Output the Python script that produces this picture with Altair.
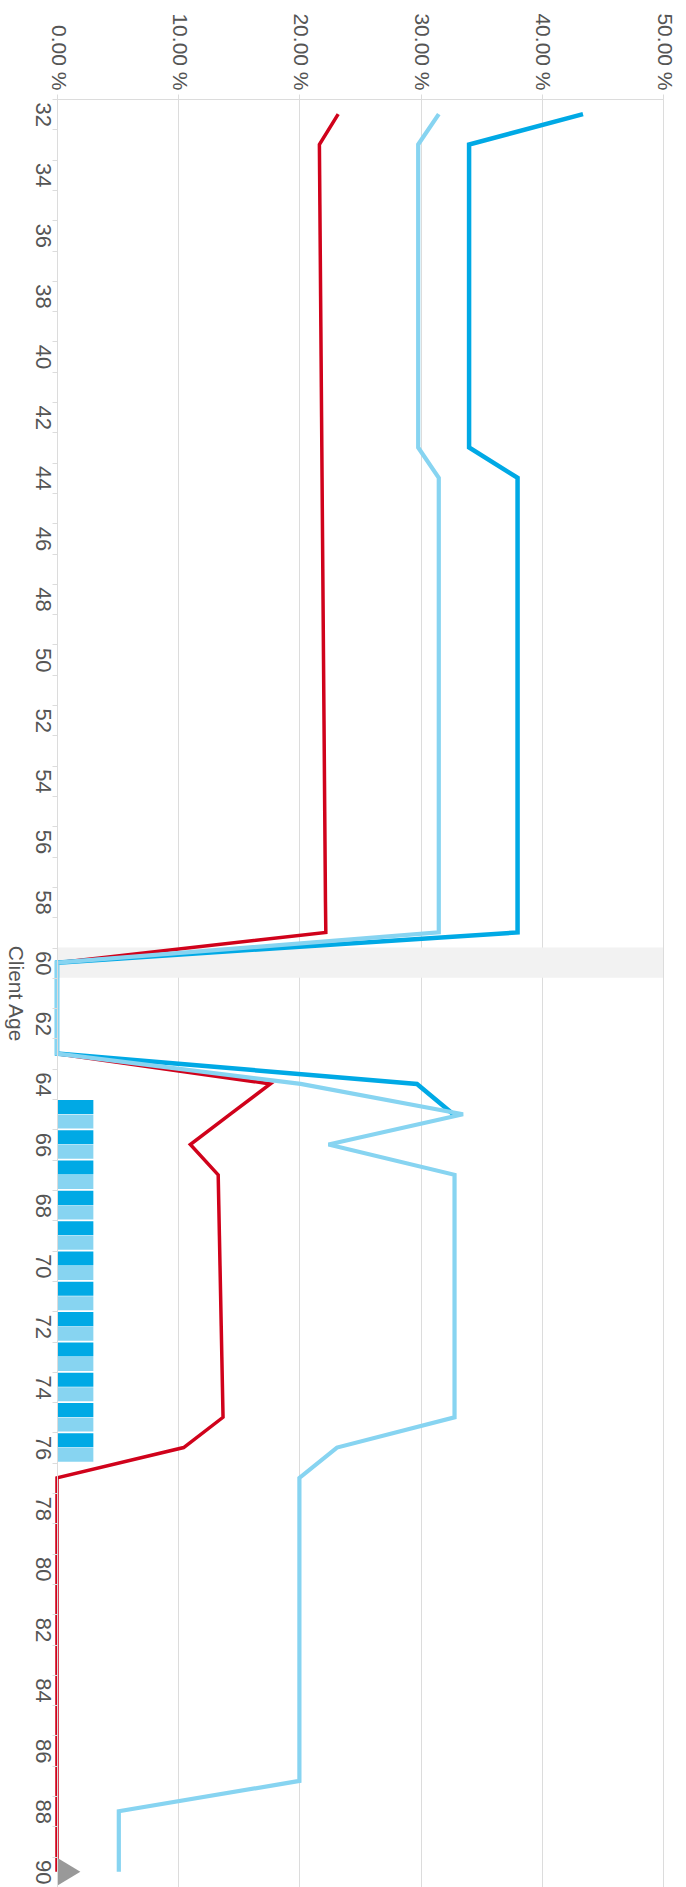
import altair as alt
import pandas as pd

ages = list(range(32, 91))

series_names = ["Dark", "Light", "Red"]
series_colors = ["#00a9e5", "#87d4f1", "#d0021b"]

dark_vals = ([43.4] + [34.0] * 11 + [38.0] * 16 + [0, 0, 0, 0] + [29.7, 32.7]
             + [None] * 25)
light_vals = ([31.5] + [29.8] * 11 + [31.5] * 16 + [0, 0, 0, 0] + [20.1, 33.5, 22.4]
              + [32.8] * 9 + [23.1] + [20.0] * 11 + [5.1] * 3)
red_vals = ([23.2,
             21.65, 21.67, 21.69, 21.71, 21.73, 21.75, 21.77, 21.79, 21.81,
             21.83, 21.85, 21.87, 21.89, 21.91, 21.93, 21.95, 21.97, 21.99,
             22.01, 22.03, 22.05, 22.07, 22.09, 22.11, 22.13, 22.15, 22.18]
            + [0, 0, 0, 0] + [17.6, 14.3, 11.0]
            + [13.3, 13.35, 13.4, 13.45, 13.5, 13.55, 13.6, 13.65, 13.7]
            + [10.45] + [0] * 14)

bar_ages = list(range(65, 77))
bar_dark = [3.0] * 12
bar_light = [3.0] * 12

highlight_age = [60]
marker_age = [90]
marker_value = [0.97]

x_ticks = [0, 10, 20, 30, 40, 50]

FONT = "Liberation Sans"
TXT = "#555555"
GRID = "#dcdcdc"

rows = []
for name, vals in zip(series_names, [dark_vals, light_vals, red_vals]):
    for a, v in zip(ages, vals):
        if v is not None:
            rows.append({"age": a, "value": v, "series": name})
lines_df = pd.DataFrame(rows)

bar_rows = []
for a, d, l in zip(bar_ages, bar_dark, bar_light):
    bar_rows.append({"age": a, "value": d, "series": "Dark"})
    bar_rows.append({"age": a, "value": l, "series": "Light"})
bars_df = pd.DataFrame(bar_rows)

band_df = pd.DataFrame({"age": highlight_age, "x0": [0], "x1": [50]})
marker_df = pd.DataFrame({"age": marker_age, "value": marker_value})

y_scale = alt.Scale(type="band", domain=ages, paddingInner=0, paddingOuter=0)
x_scale = alt.Scale(domain=[0, 50], nice=False, zero=True)
color_scale = alt.Scale(domain=series_names, range=series_colors)

x_axis = alt.Axis(
    orient="top", values=x_ticks, title=None,
    labelExpr="format(datum.value, '.2f') + ' %'",
    labelAngle=90, labelAlign="right", labelBaseline="middle",
    labelFont=FONT, labelFontSize=21, labelColor=TXT, labelPadding=4,
    tickColor=GRID, tickSize=5, domainColor=GRID, gridColor=GRID,
)
y_axis = alt.Axis(
    orient="left", tickBand="extent", title="Client Age",
    labelExpr="datum.value % 2 == 0 ? datum.label : ''",
    labelAngle=90, labelAlign="center", labelBaseline="top",
    labelFont=FONT, labelFontSize=22, labelColor=TXT, labelPadding=0,
    labelOverlap=False,
    tickColor=GRID, tickSize=5, domainColor=GRID,
    titleAngle=90, titleFont=FONT, titleFontSize=21, titleFontWeight="normal",
    titleColor=TXT, titleBaseline="top", titlePadding=6,
)

band = alt.Chart(band_df).mark_rect(color="#f2f2f2").encode(
    y=alt.Y("age:O", scale=y_scale, axis=y_axis),
    x=alt.X("x0:Q", scale=x_scale, axis=x_axis),
    x2="x1:Q",
)

bars = alt.Chart(bars_df).mark_bar().encode(
    y=alt.Y("age:O", scale=y_scale),
    yOffset=alt.YOffset("series:N", sort=["Dark", "Light"],
                        scale=alt.Scale(paddingInner=0.03, paddingOuter=0.06)),
    x=alt.X("value:Q", scale=x_scale),
    color=alt.Color("series:N", scale=color_scale, legend=None),
)

def line_layer(name, width):
    return alt.Chart(lines_df).transform_filter(
        alt.datum.series == name
    ).mark_line(strokeWidth=width, strokeJoin="miter", strokeCap="butt").encode(
        y=alt.Y("age:O", scale=y_scale, bandPosition=0.5),
        x=alt.X("value:Q", scale=x_scale),
        color=alt.Color("series:N", scale=color_scale, legend=None),
        order=alt.Order("age:Q"),
    )

marker = alt.Chart(marker_df).mark_point(
    shape="M-0.83,-1L0.83,0L-0.83,1Z", size=784, filled=True,
    color="#999999", opacity=1,
).encode(
    y=alt.Y("age:O", scale=y_scale, bandPosition=0.5),
    x=alt.X("value:Q", scale=x_scale),
)

chart = alt.layer(
    band, bars, line_layer("Red", 3.5), line_layer("Dark", 4.5),
    line_layer("Light", 4.2), marker,
).properties(
    width=606, height=1788,
    autosize=alt.AutoSizeParams(type="none"),
    padding={"left": 57, "top": 99, "right": 23, "bottom": 0},
).configure_view(stroke=None).configure(background="white")

chart.save("out.html", embed_options={"renderer": "svg", "actions": False})
